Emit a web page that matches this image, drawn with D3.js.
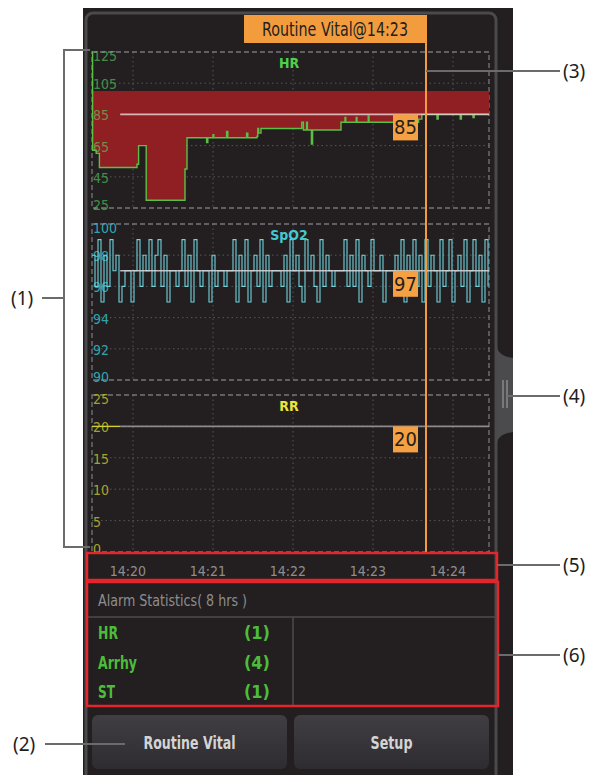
<!DOCTYPE html>
<html>
<head>
<meta charset="utf-8">
<script src="https://cdn.jsdelivr.net/npm/d3@7"></script>
<style>
body { margin: 0; background: #fff; }
svg text { font-family: "Liberation Sans Narrow", "DejaVu Sans Condensed", "Roboto", sans-serif; }
svg text.callout { font-family: "Noto Sans", "Open Sans", sans-serif; }
</style>
</head>
<body>
<svg id="vis" width="591" height="775"></svg>
<script>
// time is minutes after 14:00
const timeTicks = [20, 21, 22, 23, 24];
const timeDomain = [19.4875, 24.45];
const cursorTime = 23.6625;
const headerLabel = "Routine Vital@14:23";

const hrTicks = [125, 105, 85, 65, 45, 25];
const spo2Ticks = [100, 98, 96, 94, 92, 90];
const rrTicks = [25, 20, 15, 10, 5, 0];

const hrTimes = [19.4875, 19.495, 19.54, 19.58, 20.05, 20.07, 20.165, 20.65, 20.675, 20.92, 20.935, 21.0, 21.01,
  21.17, 21.185, 21.42, 21.435, 21.55, 21.56, 21.57, 21.6, 22.11, 22.13, 22.17, 22.18, 22.23, 22.245,
  22.6, 22.65, 22.66, 22.79, 22.8, 22.94, 22.95, 23.57, 23.61, 23.8, 23.815, 24.09, 24.105, 24.25, 24.265, 24.45];
const hrValues = [125, 62, 60, 51, 53, 65, 30, 50, 70, 67, 70, 72, 70,
  74, 70, 73, 70, 71, 76, 73, 76, 80, 75, 80, 75, 66, 75,
  80, 83, 80, 83, 80, 84, 80, 82, 85, 82, 85, 82, 85, 83, 85, 85];
const hrFillTop = 100;

const spo2Start = 19.4875;
const spo2Step = 0.0375;
const spo2Values = [98, 96, 99, 95, 98, 96, 99, 97, 98, 95,
  96, 97, 97, 95, 97, 99, 96, 98, 97, 99,
  96, 98, 99, 96, 98, 95, 97, 97, 96, 97,
  99, 96, 98, 95, 99, 97, 96, 97, 97, 95,
  98, 96, 97, 97, 96, 97, 97, 99, 95, 98,
  96, 99, 95, 97, 98, 96, 99, 95, 98, 96,
  97, 97, 97, 96, 98, 95, 99, 97, 98, 96,
  95, 99, 97, 98, 96, 95, 99, 96, 98, 97,
  96, 97, 97, 97, 99, 96, 98, 96, 99, 95,
  98, 97, 96, 99, 97, 97, 98, 95, 97, 97,
  97, 98, 96, 99, 95, 98, 97, 99, 96, 98,
  95, 99, 96, 98, 97, 95, 99, 96, 97, 99,
  95, 97, 98, 96, 99, 95, 97, 99, 96, 98,
  95, 99, 96];

const rrTimes = [19.4875, 19.84];
const rrValues = [20, 20];

const refStart = 19.84;
const currentValues = [85, 97, 20];

const alarmNames = ["HR", "Arrhy", "ST"];
const alarmCounts = [1, 4, 1];
const buttonLabels = ["Routine Vital", "Setup"];

const svg = d3.select("#vis");

// monitor body
svg.append("rect").attr("x", 83).attr("y", 8).attr("width", 430).attr("height", 800).attr("fill", "#231f20");
svg.append("rect").attr("x", 86).attr("y", 13).attr("width", 410).attr("height", 800).attr("rx", 7)
    .attr("fill", "none").attr("stroke", "#4a494b").attr("stroke-width", 3);

const x = d3.scaleLinear().domain(timeDomain).range([92, 489]);
const cursorX = x(cursorTime);

const panels = [
    {name: "HR", ticks: hrTicks, top: 52, bottom: 208, line: "#5cbf45", tick: "#55d860", title: "#4fd04a", ref: "#e8d0d0"},
    {name: "SpO2", ticks: spo2Ticks, top: 224, bottom: 380, line: "#6fd3dc", tick: "#2fb8c2", title: "#45c8d2", ref: "#d8d8d8"},
    {name: "RR", ticks: rrTicks, top: 395, bottom: 552, line: "#d6d02e", tick: "#b8b52c", title: "#ece43a", ref: "#9c9c9c"}
];
panels.forEach(p => {
    p.y = d3.scaleLinear().domain(d3.extent(p.ticks)).range([p.bottom, p.top]);
});

const hrData = hrTimes.map((t, i) => ({t: t, v: hrValues[i]}));
const spo2Data = spo2Values.map((v, i) => ({t: spo2Start + i * spo2Step, v: v}));
const rrData = rrTimes.map((t, i) => ({t: t, v: rrValues[i]}));
const trendData = [hrData, spo2Data, rrData];

panels.forEach((p, k) => {
    const g = svg.append("g").attr("class", "panel");
    // dotted grid
    g.selectAll("line.hgrid").data(p.ticks.slice(1, -1)).enter().append("line")
        .attr("x1", 92).attr("x2", 489).attr("y1", d => p.y(d)).attr("y2", d => p.y(d))
        .attr("stroke", "#57555a").attr("stroke-width", 1).attr("stroke-dasharray", "1.5,3");
    g.selectAll("line.vgrid").data(timeTicks).enter().append("line")
        .attr("x1", d => x(d)).attr("x2", d => x(d)).attr("y1", p.top).attr("y2", p.bottom)
        .attr("stroke", "#57555a").attr("stroke-width", 1).attr("stroke-dasharray", "1.5,3");
    g.append("rect").attr("x", 92).attr("y", p.top).attr("width", 397).attr("height", p.bottom - p.top)
        .attr("fill", "none").attr("stroke", "#77757a").attr("stroke-width", 1.3).attr("stroke-dasharray", "5,3");

    if (k === 0) {
        const area = d3.area().curve(d3.curveStepAfter)
            .x(d => x(d.t)).y0(p.y(hrFillTop)).y1(d => p.y(Math.min(d.v, hrFillTop)));
        g.append("path").datum(hrData).attr("d", area).attr("fill", "#8f1f23");
    }

    const n = p.ticks.length;
    g.selectAll("text.tick").data(p.ticks).enter().append("text")
        .attr("x", 93).attr("y", (d, i) => p.y(d) + (i === 0 ? 4 : i === n - 1 ? -3 : 1))
        .attr("dy", "0.35em").attr("font-size", 14).attr("fill", p.tick)
        .attr("fill-opacity", k === 0 ? 0.62 : 0.9)
        .text(d => d);

    const line = d3.line().curve(d3.curveStepAfter).x(d => x(d.t)).y(d => p.y(d.v));
    g.append("path").datum(trendData[k]).attr("d", line)
        .attr("fill", "none").attr("stroke", p.line).attr("stroke-width", k === 1 ? 1.1 : 1.4);

    g.append("line").attr("x1", x(refStart)).attr("x2", 489)
        .attr("y1", p.y(currentValues[k])).attr("y2", p.y(currentValues[k]))
        .attr("stroke", p.ref).attr("stroke-opacity", 0.85).attr("stroke-width", 1.6);

    g.append("text").attr("x", 289).attr("y", p.top + 16).attr("text-anchor", "middle")
        .attr("font-size", 14).attr("font-weight", "bold").attr("fill", p.title).text(p.name);
});

// cursor and header
svg.append("line").attr("x1", cursorX).attr("x2", cursorX).attr("y1", 15).attr("y2", 552)
    .attr("stroke", "#f39c3e").attr("stroke-width", 2);
svg.append("rect").attr("x", cursorX - 182).attr("y", 15).attr("width", 183).attr("height", 28).attr("fill", "#f39c3e");
svg.append("text").attr("x", cursorX - 91).attr("y", 36).attr("text-anchor", "middle")
    .attr("font-size", 19).attr("fill", "#231f20")
    .attr("textLength", 146).attr("lengthAdjust", "spacingAndGlyphs").text(headerLabel);

// value boxes at cursor
panels.forEach((p, k) => {
    const yy = p.y(currentValues[k]);
    svg.append("rect").attr("x", cursorX - 33).attr("y", yy).attr("width", 25).attr("height", 26).attr("fill", "#f5a042");
    svg.append("text").attr("x", cursorX - 20.5).attr("y", yy + 20).attr("text-anchor", "middle")
        .attr("font-size", 20).attr("fill", "#231f20").text(currentValues[k]);
});

// time axis
svg.selectAll("text.time").data(timeTicks).enter().append("text")
    .attr("x", d => x(d) - 5).attr("y", 576).attr("text-anchor", "middle")
    .attr("font-size", 14).attr("fill", "#8e8e8e")
    .text(d => "14:" + d3.format("02d")(d));

// alarm statistics
svg.append("line").attr("x1", 87).attr("x2", 497).attr("y1", 617).attr("y2", 617).attr("stroke", "#4d4b4e").attr("stroke-width", 1.5);
svg.append("line").attr("x1", 293).attr("x2", 293).attr("y1", 617).attr("y2", 706).attr("stroke", "#4d4b4e").attr("stroke-width", 1.5);
svg.append("text").attr("x", 98).attr("y", 606).attr("font-size", 16).attr("fill", "#8e8e8e")
    .attr("textLength", 149).attr("lengthAdjust", "spacingAndGlyphs").text("Alarm Statistics( 8 hrs )");
const alarmWidths = [20, 39, 17];
svg.selectAll("text.alarm").data(alarmNames).enter().append("text")
    .attr("x", 98).attr("y", (d, i) => 639 + i * 29.5).attr("font-size", 18).attr("font-weight", "bold")
    .attr("textLength", (d, i) => alarmWidths[i]).attr("lengthAdjust", "spacingAndGlyphs")
    .attr("fill", "#4cbd3a").text(d => d);
svg.selectAll("text.count").data(alarmCounts).enter().append("text")
    .attr("x", 270).attr("y", (d, i) => 639 + i * 29.5).attr("text-anchor", "end").attr("font-size", 18).attr("font-weight", "bold")
    .attr("fill", "#4cbd3a").text(d => `(${d})`);

// red highlight boxes
svg.append("rect").attr("x", 87).attr("y", 553).attr("width", 410).attr("height", 27)
    .attr("fill", "none").attr("stroke", "#e3262b").attr("stroke-width", 2.5);
svg.append("rect").attr("x", 87).attr("y", 582).attr("width", 411).attr("height", 124)
    .attr("fill", "none").attr("stroke", "#e3262b").attr("stroke-width", 2.5);

// buttons
const grad = svg.append("defs").append("linearGradient").attr("id", "btnGrad")
    .attr("x1", "0%").attr("y1", "0%").attr("x2", "0%").attr("y2", "100%");
grad.append("stop").attr("offset", "0%").attr("stop-color", "#403e42");
grad.append("stop").attr("offset", "100%").attr("stop-color", "#2e2c30");
const btnWidths = [92, 42];
const btnG = svg.selectAll("g.btn").data(buttonLabels).enter().append("g").attr("class", "btn")
    .attr("transform", (d, i) => `translate(${92 + i * 202}, 715)`);
btnG.append("rect").attr("width", 195).attr("height", 54).attr("rx", 6).attr("fill", "url(#btnGrad)");
btnG.append("text").attr("x", 97.5).attr("y", 34).attr("text-anchor", "middle")
    .attr("font-size", 18).attr("font-weight", "bold").attr("fill", "#d4d4d4")
    .attr("textLength", (d, i) => btnWidths[i]).attr("lengthAdjust", "spacingAndGlyphs").text(d => d);

// side handle
svg.append("path").attr("d", "M497,345 Q497,356 513,358 L513,432 Q497,434 497,444 Z").attr("fill", "#4b4a4c");
svg.append("line").attr("x1", 503).attr("x2", 503).attr("y1", 380).attr("y2", 408).attr("stroke", "#8a898b").attr("stroke-width", 1.5);
svg.append("line").attr("x1", 507).attr("x2", 507).attr("y1", 380).attr("y2", 408).attr("stroke", "#8a898b").attr("stroke-width", 1.5);

// callouts
const calloutG = svg.append("g").attr("stroke", "#6b6b6b").attr("stroke-width", 2).attr("fill", "none");
calloutG.append("path").attr("d", "M90,50 H64 V547 H90 M64,298 H42");
calloutG.append("path").attr("d", "M45,744 H125");
calloutG.append("path").attr("d", `M${cursorX},71 H560`);
calloutG.append("path").attr("d", "M507,396 H560");
calloutG.append("path").attr("d", "M497,565 H560");
calloutG.append("path").attr("d", "M498,655 H560");

const callouts = [["(1)", 11, 298], ["(2)", 13, 744], ["(3)", 563, 71], ["(4)", 563, 396], ["(5)", 563, 565], ["(6)", 563, 655]];
svg.selectAll("text.callout").data(callouts).enter().append("text").attr("class", "callout")
    .attr("x", d => d[1]).attr("y", d => d[2]).attr("dy", "0.36em")
    .attr("font-size", 19).attr("fill", "#1e1e1e").text(d => d[0]);
</script>
</body>
</html>
